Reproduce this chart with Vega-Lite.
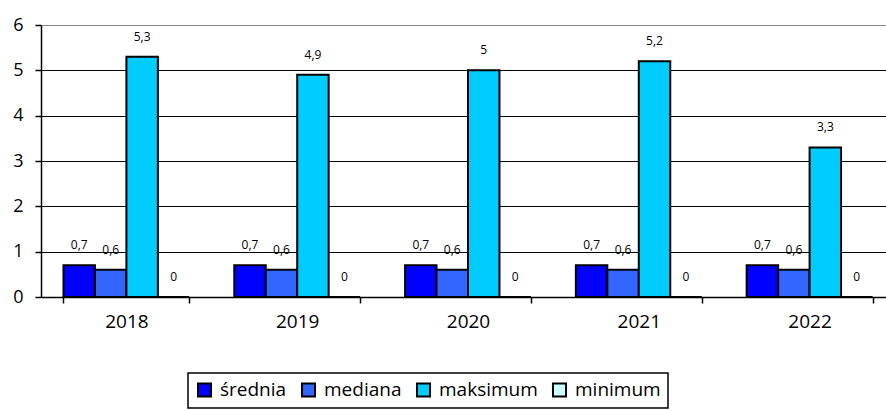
{
  "$schema": "https://vega.github.io/schema/vega-lite/v6.json",
  "width": 845,
  "height": 272,
  "autosize": {"type": "none"},
  "padding": {"left": 41, "top": 25, "right": 0, "bottom": 113},
  "background": "white",
  "config": {
    "font": "Open Sans",
    "view": {"stroke": null},
    "axis": {"labelFont": "Open Sans", "labelColor": "black"}
  },
  "data": {
    "values": [
      {"year": "2018", "series": "średnia", "value": 0.7, "lbl": "0,7"},
      {"year": "2018", "series": "mediana", "value": 0.6, "lbl": "0,6"},
      {"year": "2018", "series": "maksimum", "value": 5.3, "lbl": "5,3"},
      {"year": "2018", "series": "minimum", "value": 0, "lbl": "0"},
      {"year": "2019", "series": "średnia", "value": 0.7, "lbl": "0,7"},
      {"year": "2019", "series": "mediana", "value": 0.6, "lbl": "0,6"},
      {"year": "2019", "series": "maksimum", "value": 4.9, "lbl": "4,9"},
      {"year": "2019", "series": "minimum", "value": 0, "lbl": "0"},
      {"year": "2020", "series": "średnia", "value": 0.7, "lbl": "0,7"},
      {"year": "2020", "series": "mediana", "value": 0.6, "lbl": "0,6"},
      {"year": "2020", "series": "maksimum", "value": 5.0, "lbl": "5"},
      {"year": "2020", "series": "minimum", "value": 0, "lbl": "0"},
      {"year": "2021", "series": "średnia", "value": 0.7, "lbl": "0,7"},
      {"year": "2021", "series": "mediana", "value": 0.6, "lbl": "0,6"},
      {"year": "2021", "series": "maksimum", "value": 5.2, "lbl": "5,2"},
      {"year": "2021", "series": "minimum", "value": 0, "lbl": "0"},
      {"year": "2022", "series": "średnia", "value": 0.7, "lbl": "0,7"},
      {"year": "2022", "series": "mediana", "value": 0.6, "lbl": "0,6"},
      {"year": "2022", "series": "maksimum", "value": 3.3, "lbl": "3,3"},
      {"year": "2022", "series": "minimum", "value": 0, "lbl": "0"}
    ]
  },
  "encoding": {
    "x": {
      "field": "year", "type": "nominal", "title": null,
      "scale": {"paddingInner": 0.263, "paddingOuter": 0.1316, "range": [0, 854]},
      "axis": {
        "labelAngle": 0, "labelFontSize": 19, "labelPadding": 9,
        "domainColor": "black", "domainWidth": 1.5, "tickColor": "black", "tickSize": 6, "tickWidth": 1.5,
        "tickBand": "extent", "grid": false
      }
    },
    "xOffset": {
      "field": "series", "type": "nominal",
      "sort": ["średnia", "mediana", "maksimum", "minimum"],
      "scale": {"paddingInner": 0, "paddingOuter": 0}
    },
    "y": {
      "field": "value", "type": "quantitative", "title": null,
      "scale": {"domain": [0, 6], "nice": false},
      "axis": {
        "values": [0, 1, 2, 3, 4, 5, 6], "labelFontSize": 18, "labelPadding": 12,
        "domainColor": "black", "domainWidth": 1.5, "tickColor": "black", "tickSize": 6, "tickWidth": 1.5,
        "gridColor": {"condition": {"test": "datum.value === 6", "value": "#888888"}, "value": "black"},
        "gridWidth": 1.2, "gridOpacity": 1
      }
    }
  },
  "layer": [
    {
      "mark": {"type": "bar", "stroke": "black", "strokeWidth": 2},
      "encoding": {
        "color": {
          "field": "series", "type": "nominal",
          "sort": ["średnia", "mediana", "maksimum", "minimum"],
          "scale": {
            "domain": ["średnia", "mediana", "maksimum", "minimum"],
            "range": ["#0000FF", "#3366FF", "#00CCFF", "#CCFFFF"]
          },
          "legend": {
            "title": null, "orient": "none", "legendX": 147, "legendY": 348,
            "direction": "horizontal", "strokeColor": "black", "padding": 7,
            "symbolType": "square", "symbolSize": 170, "symbolOpacity": 1,
            "symbolStrokeColor": "black", "symbolStrokeWidth": 2,
            "labelFontSize": 19, "labelFont": "Open Sans", "labelColor": "black",
            "columnPadding": 10, "labelOffset": 6,
            "encode": {
              "symbols": {"update": {"stroke": {"value": "black"}, "strokeWidth": {"value": 2}, "strokeOpacity": {"value": 1}}},
              "legend": {"update": {"strokeWidth": {"value": 1.5}}}
            }
          }
        }
      }
    },
    {
      "mark": {"type": "text", "baseline": "bottom", "dy": -13, "fontSize": 12, "color": "black", "font": "Open Sans"},
      "encoding": {"text": {"field": "lbl"}}
    }
  ]
}
